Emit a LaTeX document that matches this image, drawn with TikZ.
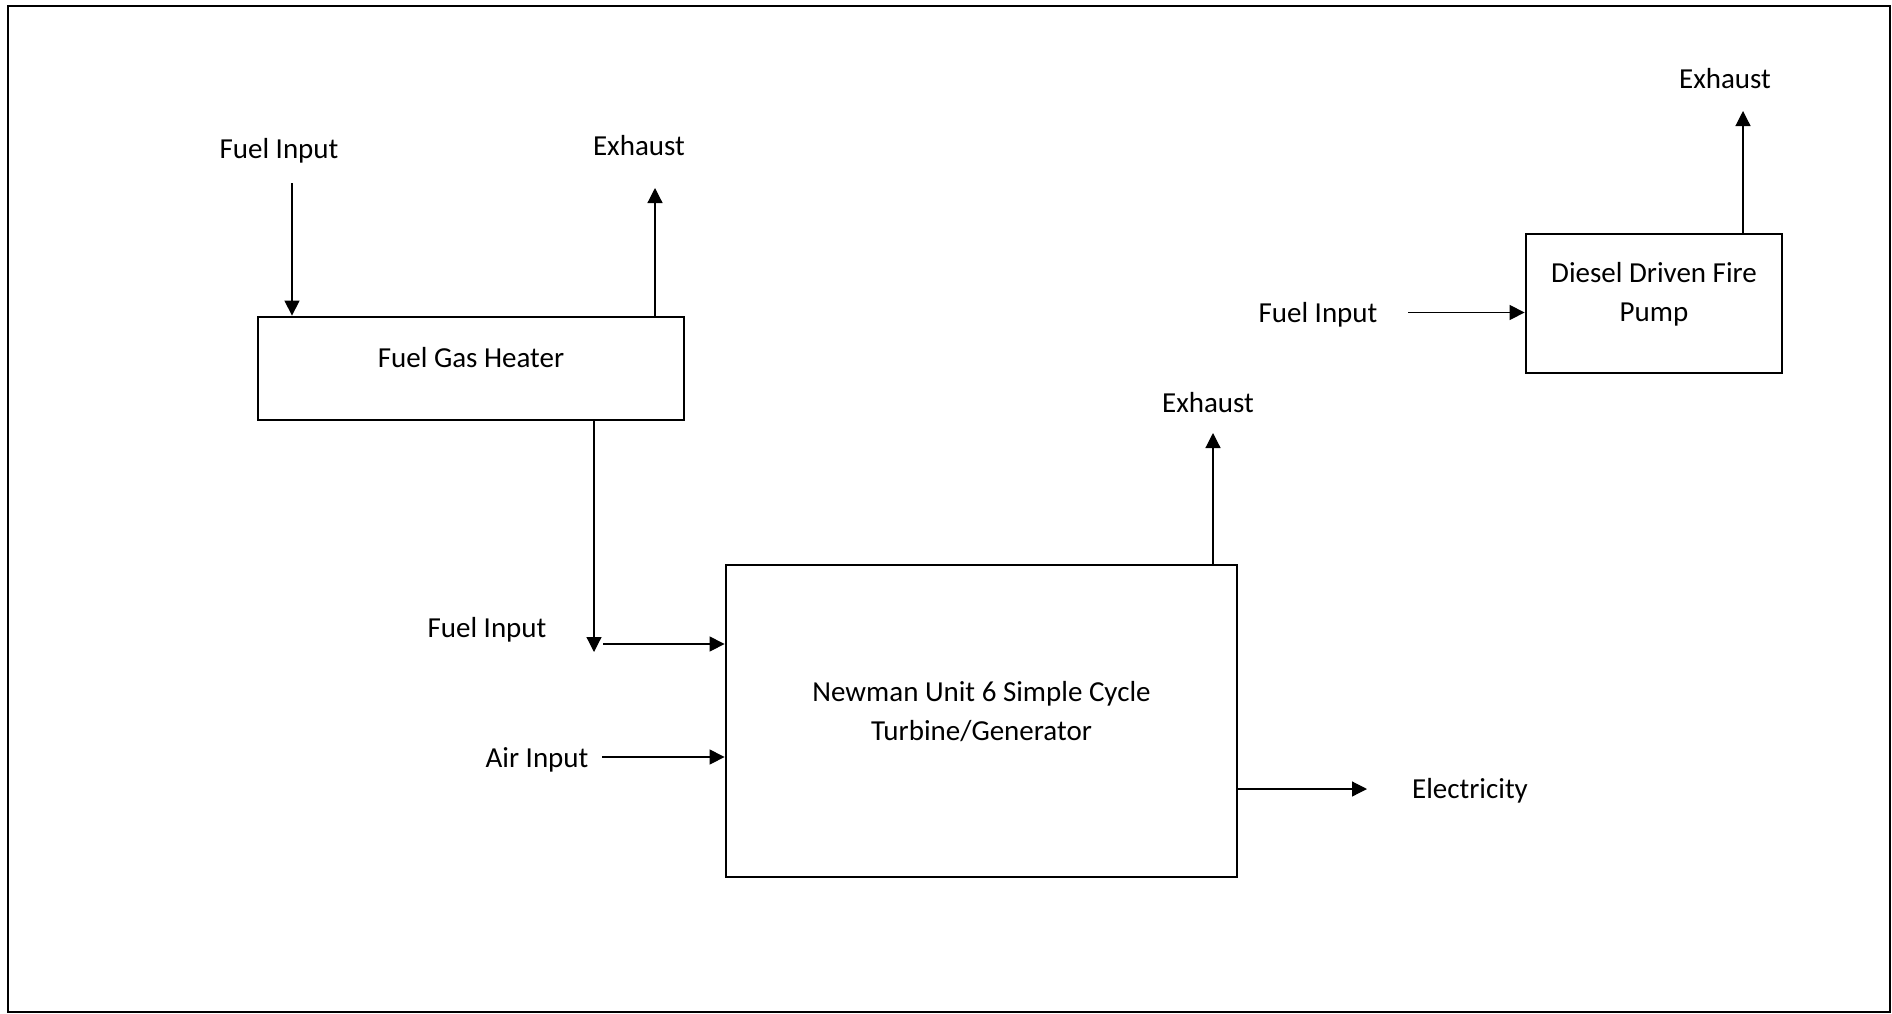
\documentclass[tikz,border=0pt]{standalone}
\usepackage{fontspec}
\setmainfont{Carlito}
\usetikzlibrary{arrows.meta}
\begin{document}
\begin{tikzpicture}[x=0.5pt,y=-0.5pt,
  box/.style={draw,line width=1.4pt,inner sep=0pt},
  txt/.style={font=\fontsize{14.5}{19.5}\selectfont,inner sep=0pt,align=center},
  arr/.style={-{Triangle[length=7.5pt,width=7.5pt]},line width=0.6pt}]
\useasboundingbox (0,0) rectangle (1892,1013);
\draw[line width=1pt] (8,6) rectangle (1890,1012);
% boxes
\node[box,minimum width=213pt,minimum height=51.5pt] (heater) at (471,368.5) {};
\node[txt] (heaterlbl) at (471,358) {Fuel Gas Heater};
\node[box,minimum width=255.5pt,minimum height=156pt] (main) at (981.5,721) {};
\node[txt] (mainlbl) at (981.5,711.5) {Newman Unit 6 Simple Cycle\\Turbine/Generator};
\node[box,minimum width=128pt,minimum height=69.5pt] (diesel) at (1654,303.5) {};
\node[txt] (diesellbl) at (1654,294.5) {Diesel Driven Fire\\Pump};
% labels
\node[txt] (fi1) at (279,150.5) {Fuel Input};
\node[txt] (ex1) at (639,146) {Exhaust};
\node[txt] (fi2) at (487,629.5) {Fuel Input};
\node[txt] (air) at (537,759.5) {Air Input};
\node[txt] (ex2) at (1208,403) {Exhaust};
\node[txt] (elec) at (1470,791) {Electricity};
\node[txt] (fi3) at (1318,314.5) {Fuel Input};
\node[txt] (ex3) at (1725,79) {Exhaust};
% free ends
\coordinate (a1) at (292,183);
\coordinate (e1) at (655,188);
\coordinate (d1) at (594,652);
\coordinate (h1) at (603,644);
\coordinate (h2) at (602,757);
\coordinate (e2) at (1213,433);
\coordinate (el) at (1367,789);
\coordinate (f3) at (1408,312.5);
\coordinate (e3) at (1743,111);
% connectors
\draw[arr] (a1) -- (heater.north -| a1);
\draw[arr] (heater.north -| e1) -- (e1);
\draw[arr] (heater.south -| d1) -- (d1);
\draw[arr] (h1) -- (main.west |- h1);
\draw[arr] (h2) -- (main.west |- h2);
\draw[arr] (main.north -| e2) -- (e2);
\draw[arr] (main.east |- el) -- (el);
\draw[arr] (f3) -- (diesel.west |- f3);
\draw[arr] (diesel.north -| e3) -- (e3);
\end{tikzpicture}
\end{document}
